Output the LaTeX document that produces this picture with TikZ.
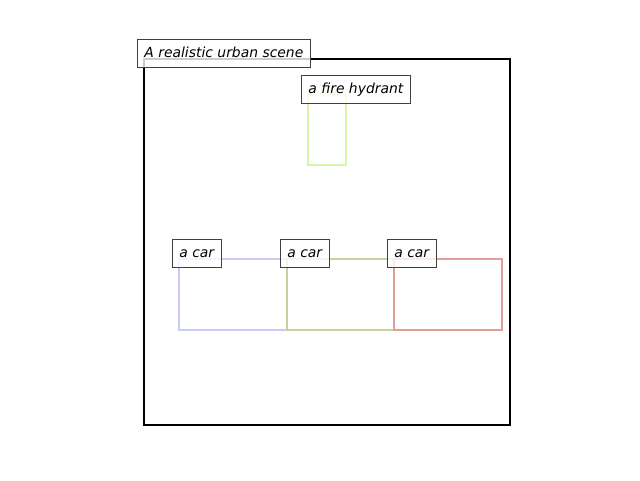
\documentclass[tikz,border=0pt]{standalone}
\usepackage{fontspec}
\setmainfont{DejaVu Sans}
\usepackage{tikz}
\usetikzlibrary{positioning}

\definecolor{hydrantgreen}{HTML}{D8F5A8}
\definecolor{carblue}{HTML}{C8CCF4}
\definecolor{carolive}{HTML}{C8D0A0}
\definecolor{carred}{HTML}{E0A098}

\tikzset{
  bbox/.style={line width=2.5pt},
  tag/.style={draw=black!75, line width=0.8pt, fill=white, fill opacity=0.8, text opacity=1,
    anchor=south west, inner xsep=7pt, inner ysep=0pt, minimum height=28pt,
    text height=10pt, text depth=3pt, font=\fontsize{13.9}{16}\selectfont\itshape}
}

\begin{document}
\begin{tikzpicture}[x=1pt, y=-1pt]
  \useasboundingbox (0,0) rectangle (640,480);
  % the scene frame
  \draw[line width=2.2pt] (144,59) coordinate (scene) rectangle (510,425);
  % detected boxes
  \draw[bbox, hydrantgreen] (308,95) coordinate (hydrant) rectangle (346,165);
  \draw[bbox, carblue] (179,259) coordinate (carA) rectangle (287,330);
  \draw[bbox, carolive] (287,259) coordinate (carB) rectangle (394,330);
  \draw[bbox, carred] (394,259) coordinate (carC) rectangle (502,330);
  % labels
  \node[tag] (scenetag) at ([xshift=-7pt, yshift=-9pt]scene) {A realistic urban scene};
  \node[tag] (hydranttag) at ([xshift=-7pt, yshift=-9pt]hydrant) {a fire hydrant};
  \node[tag] (carAtag) at ([xshift=-7pt, yshift=-9pt]carA) {a car};
  \node[tag] (carBtag) at ([xshift=-7pt, yshift=-9pt]carB) {a car};
  \node[tag] (carCtag) at ([xshift=-7pt, yshift=-9pt]carC) {a car};
\end{tikzpicture}
\end{document}
